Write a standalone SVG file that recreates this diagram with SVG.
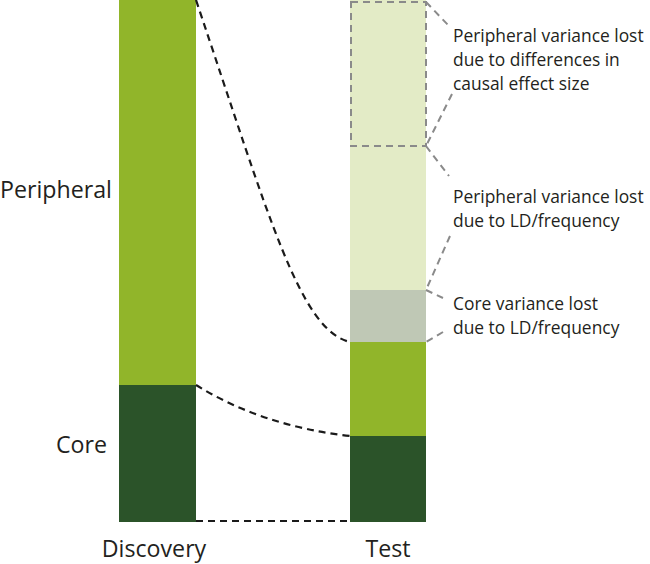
<svg xmlns="http://www.w3.org/2000/svg" width="650" height="564" viewBox="0 0 650 564">
<style>
.lbl{font-family:"Open Sans","Liberation Sans",sans-serif;fill:#231f20}
.big{font-size:23.2px}
.sm{font-size:17.4px}
.blk{fill:none;stroke:#1a1a1a;stroke-width:2.2;stroke-dasharray:7 5}
.gry{fill:none;stroke:#8a8a8a;stroke-width:2;stroke-dasharray:7 5}
</style>
<rect width="650" height="564" fill="#ffffff"/>
<g id="discovery">
<rect x="119" y="0" width="77" height="385" fill="#91b52a"/>
<rect x="119" y="385" width="77" height="137" fill="#2b5329"/>
<text class="lbl big" x="154" y="557" text-anchor="middle">Discovery</text>
</g>
<g id="test">
<rect x="350" y="0" width="76" height="146" fill="#e3ebc6"/>
<rect x="350" y="146" width="76" height="144" fill="#e3ebc6"/>
<rect x="350" y="290" width="76" height="52" fill="#bfc8b5"/>
<rect x="350" y="342" width="76" height="94" fill="#91b52a"/>
<rect x="350" y="436" width="76" height="86" fill="#2b5329"/>
<rect class="gry" x="351" y="2" width="75" height="144"/>
<text class="lbl big" x="388" y="557" text-anchor="middle">Test</text>
</g>
<g id="labels">
<text class="lbl big" x="0" y="198">Peripheral</text>
<text class="lbl big" x="56" y="453">Core</text>
</g>
<g id="callout1">
<text class="lbl sm" x="453"><tspan x="453" y="42">Peripheral variance lost</tspan><tspan x="453" y="66">due to differences in</tspan><tspan x="453" y="90">causal effect size</tspan></text>
</g>
<g id="callout2">
<text class="lbl sm" x="453"><tspan x="453" y="203">Peripheral variance lost</tspan><tspan x="453" y="227">due to LD/frequency</tspan></text>
</g>
<g id="callout3">
<text class="lbl sm" x="453"><tspan x="453" y="310">Core variance lost</tspan><tspan x="453" y="334">due to LD/frequency</tspan></text>
</g>
<g id="connectors">
<path class="blk" d="M196,0 C270,220 300,330 350,342"/>
<path class="blk" d="M196,385 Q262,426 350,436"/>
<path class="blk" d="M196,521 L350,521"/>
<path class="gry" d="M426,2 L449,26 M452,94 L426,146"/>
<path class="gry" d="M426,146 L449,176 M450,236 L426,290"/>
<path class="gry" d="M426,290 L443,298 M443,332 L426,342"/>
</g>
</svg>
